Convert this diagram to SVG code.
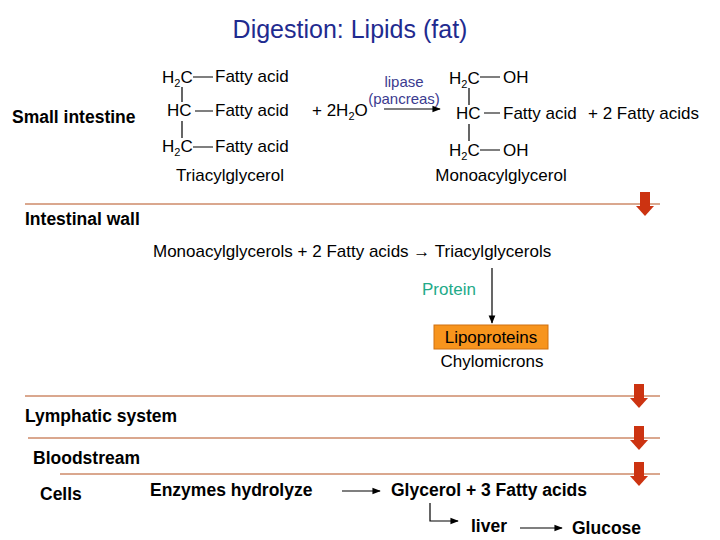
<svg xmlns="http://www.w3.org/2000/svg" width="720" height="540" viewBox="0 0 720 540">
<defs>
<style>
text{font-family:"Liberation Sans",Arial,sans-serif;font-size:17px;fill:#000}
.b{font-weight:bold;font-size:17.5px}
.t{fill:#1f2b8f;font-size:25px}
.bl{fill:#3b3b8f;font-size:15px}
.ln{stroke:#000;stroke-width:1.2;fill:none}
.sep{stroke:#b5501f;stroke-width:1}
.ra{fill:#cc3311}
</style>
<marker id="ah" viewBox="0 0 10 10" refX="9" refY="5" markerWidth="7" markerHeight="7" orient="auto"><path d="M0,1L10,5L0,9z" fill="#000"/></marker>
<g id="redarrow"><rect x="-5" y="0" width="10" height="15" class="ra"/><path d="M-9,14L9,14L0,24z" class="ra"/></g>
</defs>
<rect width="720" height="540" fill="#fff"/>
<text x="350" y="38" text-anchor="middle" class="t">Digestion: Lipids (fat)</text>
<g id="labels">
<text x="12" y="123" class="b">Small intestine</text>
<text x="25" y="225" class="b">Intestinal wall</text>
<text x="25" y="422" class="b">Lymphatic system</text>
<text x="33" y="464" class="b">Bloodstream</text>
<text x="40" y="500" class="b">Cells</text>
</g>
<g id="triacyl">
<text x="162" y="83">H<tspan font-size="11" dy="4">2</tspan><tspan dy="-4">C</tspan></text>
<text x="167" y="116">HC</text>
<text x="162" y="152">H<tspan font-size="11" dy="4">2</tspan><tspan dy="-4">C</tspan></text>
<text x="215" y="82">Fatty acid</text>
<text x="215" y="116">Fatty acid</text>
<text x="215" y="152">Fatty acid</text>
<text x="230" y="181" text-anchor="middle">Triacylglycerol</text>
</g>
<g id="mono">
<text x="449" y="84">H<tspan font-size="11" dy="4">2</tspan><tspan dy="-4">C</tspan></text>
<text x="456" y="119">HC</text>
<text x="449" y="156">H<tspan font-size="11" dy="4">2</tspan><tspan dy="-4">C</tspan></text>
<text x="503" y="83">OH</text>
<text x="503" y="119">Fatty acid</text>
<text x="503" y="156">OH</text>
<text x="588" y="119">+ 2 Fatty acids</text>
<text x="501" y="181" text-anchor="middle">Monoacylglycerol</text>
</g>
<text x="312" y="116">+ 2H<tspan font-size="11" dy="4">2</tspan><tspan dy="-4">O</tspan></text>
<text x="404" y="87" text-anchor="middle" class="bl">lipase</text>
<text x="404" y="104" text-anchor="middle" class="bl">(pancreas)</text>
<text x="153" y="257">Monoacylglycerols + 2 Fatty acids → Triacylglycerols</text>
<text x="422" y="295" style="fill:#22aa88">Protein</text>
<g id="lipo"><rect x="434" y="325" width="114" height="24" fill="#f7941d" stroke="#d07010"/>
<text x="491" y="343" text-anchor="middle">Lipoproteins</text></g>
<text x="492" y="367" text-anchor="middle">Chylomicrons</text>
<text x="150" y="496" class="b">Enzymes hydrolyze</text>
<text x="391" y="496" class="b">Glycerol + 3 Fatty acids</text>
<text x="471" y="532" class="b">liver</text>
<text x="572" y="534" class="b">Glucose</text>
<g id="connectors">
<path class="ln" d="M182,87V102M182,121V138M469,88V105M469,124V141"/>
<path class="ln" d="M193,77H213M195,111H213M193,147H213M480,77H500M484,113H500M480,150H500"/>
<path class="ln" d="M384,109H440" marker-end="url(#ah)"/>
<path class="ln" d="M492,268V323" marker-end="url(#ah)"/>
<path class="ln" d="M342,491H380" marker-end="url(#ah)"/>
<path class="ln" d="M430,503V521H458" marker-end="url(#ah)"/>
<path class="ln" d="M520,528H562" marker-end="url(#ah)"/>
<path class="sep" d="M25,204H660M25,396H660M28,438H660M60,474H660"/>
</g>
<use href="#redarrow" x="645" y="192"/>
<use href="#redarrow" x="639" y="384"/>
<use href="#redarrow" x="639" y="426"/>
<use href="#redarrow" x="639" y="462"/>
</svg>
